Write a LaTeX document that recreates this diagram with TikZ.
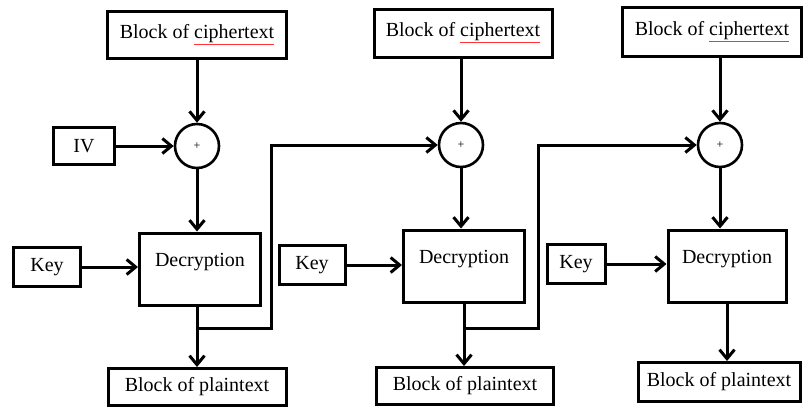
\documentclass[tikz,border=0pt]{standalone}
\usepackage{fontspec}
\setmainfont{Liberation Serif}
\usepackage{xcolor}
\usetikzlibrary{positioning,calc,arrows.meta}
\newcommand{\ctxt}{\textcolor{red!80}{\underline{\textcolor{black}{ciphertext}}}}

\begin{document}
\begin{tikzpicture}[x=1pt,y=-1pt,line width=3pt,
  >={Straight Barb[length=9pt,width=15pt]},
  box/.style={draw,inner sep=0pt,font=\fontsize{20}{24}\selectfont},
  xr/.style={draw,circle,minimum size=44pt,inner sep=0pt,line width=2.6pt,font=\fontsize{12}{12}\selectfont},
  dec/.style={box,minimum height=72pt,text height=14pt,text depth=20pt}]
\useasboundingbox (0,0) rectangle (810,410);

\node[box,minimum width=179pt,minimum height=47pt] (c1) at (197,35) {Block of \ctxt};
\node[box,minimum width=178pt,minimum height=48pt] (c2) at (463,33) {Block of \ctxt};
\node[box,minimum width=179pt,minimum height=49pt] (c3) at (712,32) {Block of \ctxt};

\node[xr] (x1) at (197,146) {+};
\node[xr] (x2) at (461,145) {+};
\node[xr] (x3) at (720,145) {+};

\node[box,minimum width=61pt,minimum height=37pt] (iv) at (84,146) {IV};

\node[dec,minimum width=121pt] (d1) at (200,269) {Decryption};
\node[dec,minimum width=121pt] (d2) at (464,266) {Decryption};
\node[dec,minimum width=118pt] (d3) at (727,266) {Decryption};

\node[box,minimum width=67pt,minimum height=39pt] (k1) at (47,267) {Key};
\node[box,minimum width=66pt,minimum height=39pt] (k2) at (312,265) {Key};
\node[box,minimum width=58pt,minimum height=39pt] (k3) at (576,264) {Key};

\node[box,minimum width=178pt,minimum height=37pt] (p1) at (197,387) {Block of plaintext};
\node[box,minimum width=177pt,minimum height=37pt] (p2) at (465,386) {Block of plaintext};
\node[box,minimum width=162pt,minimum height=39pt] (p3) at (719,382) {Block of plaintext};

\draw[->] (x1 |- c1.south) -- (x1);
\draw[->] (x2 |- c2.south) -- (x2);
\draw[->] (x3 |- c3.south) -- (x3);
\draw[->] (iv) -- (x1);

\draw[->] (x1) -- (x1 |- d1.north);
\draw[->] (x2) -- (x2 |- d2.north);
\draw[->] (x3) -- (x3 |- d3.north);

\draw[->] (k1) -- (k1 -| d1.west);
\draw[->] (k2) -- (k2 -| d2.west);
\draw[->] (k3) -- (k3 -| d3.west);

\draw[->] (x1 |- d1.south) -- (x1 |- p1.north);
\draw[->] (d2.south) -- (d2.south |- p2.north);
\draw[->] (d3.south) -- (d3.south |- p3.north);

\coordinate (j1) at (197,328);
\coordinate (b1) at (271,328);
\coordinate (j2) at (464,328);
\coordinate (b2) at (538,328);
\draw[->] (j1) -- (b1) |- (x2);
\draw[->] (j2) -- (b2) |- (x3);
\end{tikzpicture}
\end{document}
